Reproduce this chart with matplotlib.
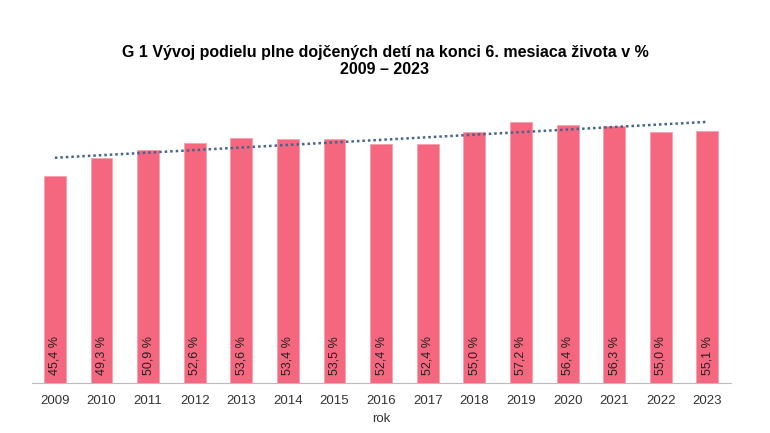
import matplotlib
matplotlib.use("Agg")
import matplotlib.pyplot as plt
import numpy as np

years = ["2009", "2010", "2011", "2012", "2013", "2014", "2015", "2016",
         "2017", "2018", "2019", "2020", "2021", "2022", "2023"]
values = [45.4, 49.3, 50.9, 52.6, 53.6, 53.4, 53.5, 52.4, 52.4, 55.0,
          57.2, 56.4, 56.3, 55.0, 55.1]

plt.rcParams['font.family'] = ['Liberation Sans', 'DejaVu Sans']

fig = plt.figure(figsize=(7.7, 4.33), dpi=100)
ax = fig.add_axes([0.041, 0.1155, 0.908, 0.633])

x = np.arange(len(years))
ax.bar(x, values, width=0.47, color='#F4677F', edgecolor='#F7A0AE', linewidth=0.6, zorder=2)

coef = np.polyfit(x, values, 1)
ax.plot(x, np.polyval(coef, x), linestyle=(0, (1, 1.2)), color='#44658A', linewidth=1.8, zorder=3)

for xi, v in zip(x, values):
    ax.text(xi, 1.8, f"{v:.1f} %".replace('.', ','), rotation=90, ha='center', va='bottom',
            fontsize=9, color='#222222', zorder=4)

ax.set_xlim(-0.5, len(years) - 0.5)
ax.set_ylim(0, 60)
ax.set_xticks(x)
ax.set_xticklabels(years, fontsize=9.5, color='#333333')
ax.tick_params(axis='x', length=0, pad=9)
ax.set_yticks([])
for s in ['top', 'right', 'left']:
    ax.spines[s].set_visible(False)
ax.spines['bottom'].set_color('#BBBBBB')
ax.set_xlabel('rok', fontsize=9.5, color='#333333', labelpad=4)

fig.text(0.5, 0.859, "G 1 Vývoj podielu plne dojčených detí na konci 6. mesiaca života v %\n2009 – 2023",
         ha='center', va='center', fontsize=11.5, fontweight='bold', linespacing=1.2)

fig.savefig('out.png', dpi=100)
